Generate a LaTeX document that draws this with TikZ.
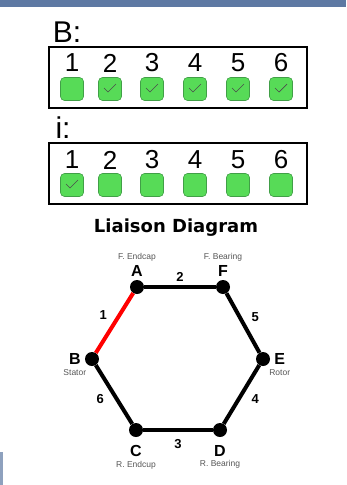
\documentclass[tikz,border=0pt]{standalone}
\usepackage{fontspec}
\setmainfont{Liberation Sans}
\newfontfamily\titlefont{DejaVu Sans}
\usetikzlibrary{positioning}
\definecolor{barblue}{HTML}{5E79A3}
\definecolor{boxgreen}{HTML}{57DB57}
\definecolor{boxedge}{HTML}{419F47}
\definecolor{partgray}{HTML}{555555}

\begin{document}
\begin{tikzpicture}[x=1pt, y=-1pt,
    frm/.style={draw, line width=2.5pt, minimum width=258pt, minimum height=61pt, inner sep=0pt},
    hdr/.style={font=\fontsize{30}{30}\selectfont, inner sep=0pt},
    num/.style={font=\fontsize{26}{26}\selectfont, inner sep=0pt},
    cbox/.style={draw=boxedge, fill=boxgreen, rounded corners=4pt, minimum size=23pt, inner sep=0pt, line width=0.6pt},
    ticked/.style={cbox, path picture={\draw[black!70, line width=0.7pt, sharp corners] ([shift={(-6pt,1pt)}]path picture bounding box.center) -- ++(4pt,-4pt) -- ++(8pt,8pt);}},
    dot/.style={circle, fill=black, minimum size=14pt, inner sep=0pt},
    ltr/.style={font=\bfseries\fontsize{16}{16}\selectfont, inner sep=0pt},
    part/.style={font=\fontsize{8.5}{9}\selectfont, text=partgray, inner sep=0pt},
    lbl/.style={font=\bfseries\fontsize{13}{13}\selectfont, text=black, inner sep=1pt},
    link/.style={line width=4pt}
]
\useasboundingbox (0,0) rectangle (346,485);
\fill[barblue] (0,0) rectangle (346,7);
\fill[barblue!70] (0,452) rectangle (3,485);

% B row
\node[hdr] (bhead) at (67,32) {B:};
\node[frm] (bframe) at (178,77.5) {};
\foreach \n/\px in {1/72,2/110,3/152,4/195,5/238,6/281}
    \node[num] (bn\n) at (\px,63) {\n};
\node[cbox] (b1) at (72,89) {};
\foreach \n/\px in {2/110,3/152,4/195,5/238,6/281}
    \node[ticked] (b\n) at (\px,89) {};

% i row
\node[hdr] (ihead) at (63,128) {i:};
\node[frm] (iframe) at (178,173.5) {};
\foreach \n/\px in {1/72,2/110,3/152,4/195,5/238,6/281}
    \node[num] (in\n) at (\px,160) {\n};
\node[ticked] (i1) at (72,185) {};
\foreach \n/\px in {2/110,3/152,4/195,5/238,6/281}
    \node[cbox] (i\n) at (\px,185) {};

% liaison diagram
\node[font=\titlefont\bfseries\fontsize{18}{18}\selectfont] (title) at (176,228) {Liaison Diagram};

\node[dot] (A) at (137,287) {};
\node[dot] (F) at (223,287) {};
\node[dot] (B) at (92,359) {};
\node[dot] (E) at (263,359) {};
\node[dot] (C) at (136,430) {};
\node[dot] (D) at (220,430) {};

\draw[link, red] (A) -- node[lbl, pos=0.36, left=10pt] (e1) {1} (B);
\draw[link] (A) -- node[lbl, above=3pt] (e2) {2} (F);
\draw[link] (C) -- node[lbl, below=6pt] (e3) {3} (D);
\draw[link] (E) -- node[lbl, pos=0.58, right=10pt] (e4) {4} (D);
\draw[link] (F) -- node[lbl, pos=0.4, right=9pt] (e5) {5} (E);
\draw[link] (B) -- node[lbl, pos=0.58, left=10pt] (e6) {6} (C);

\node[ltr, above=3pt of A] (lA) {A};
\node[part, above=4pt of lA] (pA) {F. Endcap};
\node[ltr, above=3pt of F] (lF) {F};
\node[part, above=4pt of lF] (pF) {F. Bearing};
\node[ltr, left=4pt of B] (lB) {B};
\node[part, below=5pt of lB] (pB) {Stator};
\node[ltr, right=4pt of E] (lE) {E};
\node[part, below=5pt of lE] (pE) {Rotor};
\node[ltr, below=8pt of C] (lC) {C};
\node[part, below=4pt of lC] (pC) {R. Endcup};
\node[ltr, below=8pt of D] (lD) {D};
\node[part, below=4pt of lD] (pD) {R. Bearing};
\end{tikzpicture}
\end{document}
